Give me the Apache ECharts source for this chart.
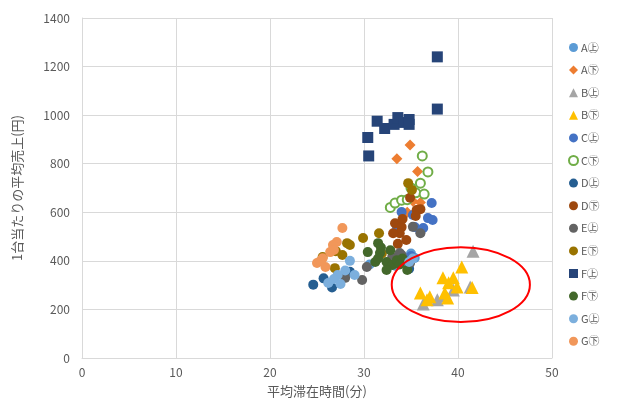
<!DOCTYPE html>
<html><head><meta charset="utf-8">
<script src="https://cdn.jsdelivr.net/npm/echarts@6/dist/echarts.min.js"></script>
<style>html,body{margin:0;padding:0;background:#fff}#c{width:618px;height:403px}</style>
</head><body><div id="c"></div>
<script>
const xTicks = [0,10,20,30,40,50];
const yTicks = [0,200,400,600,800,1000,1200,1400];
const seriesNames = ['A㊤','A㊦','B㊤','B㊦','C㊤','C㊦','D㊤','D㊦','E㊤','E㊦','F㊤','F㊦','G㊤','G㊦'];
const A_up = [[34.8,400],[35.4,412],[33.3,380],[34.2,395],[30.6,385],[35.0,430]];
const A_down = [[34.9,877],[33.5,820],[35.7,768],[35.2,645],[36.0,640],[34.6,600]];
const B_up = [[41.6,440],[41.3,292],[36.3,222],[37.8,240],[39.5,280],[38.6,255]];
const B_down = [[40.4,375],[38.4,330],[39.5,330],[41.5,290],[36.0,268],[37.0,252],[38.6,268],[38.9,247],[39.9,292],[36.7,240],[39.0,310]];
const C_up = [[37.2,638],[36.8,576],[37.3,568],[35.2,589],[34.0,601],[36.3,535],[35.4,539],[36.0,520],[34.6,403],[35.0,420],[33.5,540]];
const C_down = [[32.8,620],[33.3,638],[34.0,650],[34.6,652],[35.5,680],[36.0,720],[36.2,832],[36.8,766],[36.4,675],[35.0,700]];
const D_up = [[24.6,302],[25.7,328],[26.6,290],[27.9,338],[28.5,355],[34.8,368]];
const D_down = [[33.3,555],[34.0,539],[33.8,514],[34.5,486],[35.6,609],[33.1,514],[34.1,572],[36.0,613],[34.9,660],[35.5,585],[33.6,470]];
const E_up = [[29.8,321],[30.3,375],[33.0,416],[33.8,432],[34.9,391],[36.0,514],[34.0,424],[35.2,540],[28.0,330]];
const E_down = [[25.6,416],[28.2,473],[29.9,494],[27.7,424],[26.9,370],[31.6,514],[28.5,465],[34.7,720],[35.1,692],[31.9,430],[27.0,440]];
const F_up = [[30.4,908],[30.5,832],[31.4,975],[32.2,945],[33.2,962],[33.6,990],[34.3,970],[34.8,982],[34.8,962],[37.8,1240],[37.8,1025]];
const F_down = [[31.5,473],[30.4,436],[31.7,432],[32.8,444],[31.2,395],[32.4,395],[33.0,383],[33.5,403],[34.6,362],[32.4,362],[31.5,410],[33.8,385],[31.8,455],[34.1,410]];
const G_up = [[26.2,309],[27.2,342],[28.0,360],[29.0,342],[28.5,400],[26.8,325],[27.5,305],[35.2,410],[34.8,395]];
const G_down = [[27.7,535],[27.1,478],[26.7,465],[26.4,436],[25.6,411],[25.0,391],[25.9,375],[26.8,445],[25.4,400]];
const allData = [A_up,A_down,B_up,B_down,C_up,C_down,D_up,D_down,E_up,E_down,F_up,F_down,G_up,G_down];
const colors = ['#5B9BD5','#ED7D31','#A5A5A5','#FFC000','#4472C4','#70AD47','#255E91','#9E480E','#636363','#997300','#264478','#43682B','#7CAFDD','#F1975A'];
const symbols = ['circle','diamond','triangle','triangle','circle','emptyCircle','circle','circle','circle','circle','rect','circle','circle','circle'];
const sizes = [10,11,13,13,10,9,10,10,10,10,11,10,10,10];
// annotation ellipse (data units): center x, center y, radius x, radius y
const ellipseAnno = [40.3, 302, 7.35, 154];

const FONT = '"Noto Sans CJK JP", sans-serif';
const chart = echarts.init(document.getElementById('c'));
const series = seriesNames.map((n,i)=>({
  name:n, type:'scatter', data:allData[i], symbol:symbols[i], symbolSize:sizes[i],
  itemStyle: symbols[i]==='emptyCircle' ? {color:colors[i], borderColor:colors[i], borderWidth:1.8, opacity:1} : {color:colors[i], opacity:1},
  emphasis:{disabled:true}
}));
chart.setOption({
  animation:false,
  textStyle:{fontFamily:FONT},
  grid:{left:82,right:66,top:18,bottom:45},
  xAxis:{type:'value',min:xTicks[0],max:xTicks[xTicks.length-1],interval:10,
    name:'平均滞在時間(分)',nameLocation:'middle',nameGap:27,
    nameTextStyle:{color:'#595959',fontSize:13,fontFamily:FONT},
    axisLine:{show:true,lineStyle:{color:'#D9D9D9'}},axisTick:{show:false},
    axisLabel:{color:'#595959',fontSize:12,margin:8,fontFamily:FONT,formatter:v=>String(v)},
    splitLine:{show:true,lineStyle:{color:'#D9D9D9'}}},
  yAxis:{type:'value',min:yTicks[0],max:yTicks[yTicks.length-1],interval:200,
    name:'1台当たりの平均売上(円)',nameLocation:'middle',nameGap:58,
    nameTextStyle:{color:'#595959',fontSize:13,fontFamily:FONT},
    axisLine:{show:true,lineStyle:{color:'#D9D9D9'}},axisTick:{show:false},
    axisLabel:{color:'#595959',fontSize:12,margin:12,fontFamily:FONT,formatter:v=>String(v)},
    splitLine:{show:true,lineStyle:{color:'#D9D9D9'}}},
  legend:{orient:'vertical',left:563,top:37,itemWidth:9,itemHeight:9,itemGap:11.6,
    textStyle:{color:'#595959',fontSize:11,fontFamily:FONT,padding:[0,0,0,-2]},
    data:seriesNames},
  series:series
});
const c = chart.convertToPixel({gridIndex:0},[ellipseAnno[0],ellipseAnno[1]]);
const e = chart.convertToPixel({gridIndex:0},[ellipseAnno[0]+ellipseAnno[2],ellipseAnno[1]+ellipseAnno[3]]);
chart.setOption({graphic:[{type:'ellipse',shape:{cx:c[0],cy:c[1],rx:Math.abs(e[0]-c[0]),ry:Math.abs(c[1]-e[1])},
  style:{fill:'none',stroke:'#FF0000',lineWidth:2},silent:true,z:100}]});
</script></body></html>
